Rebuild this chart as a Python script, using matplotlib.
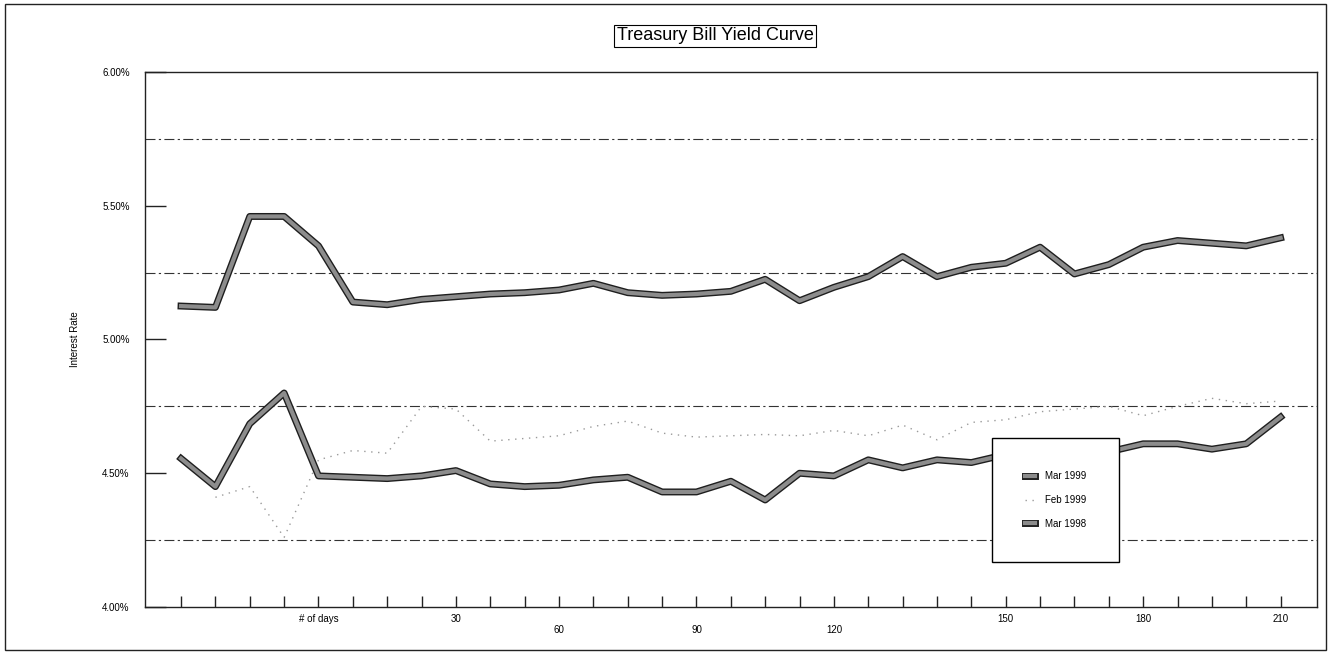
import numpy as np
import matplotlib
matplotlib.use("Agg")
import matplotlib.pyplot as plt
import matplotlib.patheffects as pe
import matplotlib.transforms as mtransforms
from matplotlib.ticker import FuncFormatter, MultipleLocator
from matplotlib.patches import Rectangle

plt.rcParams['font.family'] = ['Liberation Sans', 'DejaVu Sans']

# maturities on the category axis (one point per week, 0..32)
n_points = 33
days = np.arange(n_points)

# yields in percent
mar_1998 = [5.125, 5.12, 5.46, 5.46, 5.35, 5.14, 5.13, 5.15, 5.16, 5.17, 5.175,
            5.185, 5.21, 5.175, 5.165, 5.17, 5.18, 5.225, 5.145, 5.195, 5.235,
            5.31, 5.235, 5.27, 5.285, 5.345, 5.245, 5.28, 5.345, 5.37, 5.36,
            5.35, 5.38]
mar_1999 = [4.555, 4.45, 4.685, 4.80, 4.49, 4.485, 4.48, 4.49, 4.51, 4.46, 4.45,
            4.455, 4.475, 4.485, 4.43, 4.43, 4.47, 4.40, 4.50, 4.49, 4.55,
            4.52, 4.55, 4.54, 4.57, 4.58, 4.59, 4.58, 4.61, 4.61, 4.59, 4.61,
            4.71]
feb_1999 = [np.nan, 4.41, 4.45, 4.26, 4.55, 4.585, 4.575, 4.75, 4.74, 4.62, 4.63,
            4.64, 4.675, 4.695, 4.65, 4.635, 4.64, 4.645, 4.64, 4.66, 4.64,
            4.68, 4.625, 4.69, 4.70, 4.73, 4.74, 4.75, 4.715, 4.75, 4.78, 4.76,
            4.77]

# sparse day labels under the axis
label_idx = [8, 11, 15, 19, 24, 28, 32]
label_txt = ["30", "60", "90", "120", "150", "180", "210"]
low_row = {11, 15, 19}      # labels Excel pushed down a row

grid_levels = [4.25, 4.75, 5.25, 5.75]

fig = plt.figure(figsize=(13.3, 6.54), dpi=100)
ax = fig.add_axes([0.109, 0.0719, 0.881, 0.818])

# outer chart border
fig.patches.append(Rectangle((0.004, 0.006), 0.993, 0.988, transform=fig.transFigure,
                             fill=False, ec='#222222', lw=1.0))

for g in grid_levels:
    ax.axhline(g, color='#333333', lw=0.8, ls=(0, (9, 3, 2, 3)), zorder=1)

thick = [pe.Stroke(linewidth=5, foreground='#1e1e1e'), pe.Normal()]
l98, = ax.plot(days, mar_1998, color='#8c8c8c', lw=3, solid_joinstyle='round',
               path_effects=thick, zorder=3, label='Mar 1998')
l99, = ax.plot(days, mar_1999, color='#8c8c8c', lw=3, solid_joinstyle='round',
               path_effects=thick, zorder=3, label='Mar 1999')
lfeb, = ax.plot(days, feb_1999, color='#9a9a9a', lw=1.0, ls=(0, (1, 4)),
                zorder=2, label='Feb 1999')

ax.set_xlim(-1.05, 33.05)
ax.set_ylim(4.0, 6.0)

ax.yaxis.set_major_locator(MultipleLocator(0.5))
ax.yaxis.set_major_formatter(FuncFormatter(lambda v, p: f"{v:.2f}%"))
ax.tick_params(axis='y', direction='in', length=15, width=1, pad=11,
               labelsize=7, color='#222222')

ax.set_xticks(days)
ax.set_xticklabels([label_txt[label_idx.index(i)] if i in label_idx else ""
                    for i in days])
ax.tick_params(axis='x', direction='in', length=8, width=1, pad=5,
               labelsize=7, color='#222222')
shift = mtransforms.ScaledTranslation(0, -0.11, fig.dpi_scale_trans)
for i, lab in enumerate(ax.get_xticklabels()):
    if i in low_row:
        lab.set_transform(lab.get_transform() + shift)

for s in ax.spines.values():
    s.set_color('#222222')
    s.set_linewidth(1.0)

ax.set_ylabel("Interest Rate", fontsize=7)
ax.yaxis.set_label_coords(-0.0555, 0.5)
ax.set_xlabel("# of days", fontsize=7)
ax.xaxis.set_label_coords((4 + 1.05) / 34.1, -0.022)
ax.xaxis.label.set_va('center')

leg = ax.legend([l99, lfeb, l98], ['Mar 1999', 'Feb 1999', 'Mar 1998'],
                loc='center', bbox_to_anchor=(0.777, 0.2), fontsize=7,
                frameon=True, fancybox=False, framealpha=1, edgecolor='black',
                borderpad=3.4, labelspacing=1.4, handlelength=1.0,
                handletextpad=1.0)
leg.get_frame().set_linewidth(1.0)
leg.set_zorder(10)

fig.text(715 / 1330, 1 - 36 / 654, "Treasury Bill Yield Curve", ha='center',
         va='center', fontsize=13,
         bbox=dict(boxstyle='square,pad=0.15', fc='white', ec='black', lw=0.8))

fig.savefig("out.png", dpi=100)
